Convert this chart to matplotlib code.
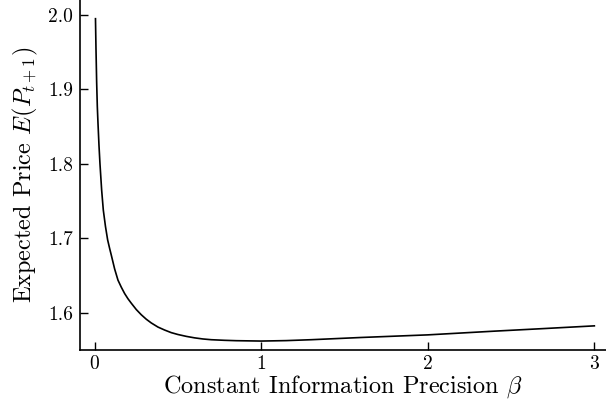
import numpy as np
import matplotlib
matplotlib.use('Agg')
import matplotlib.pyplot as plt

plt.rcParams['font.family'] = 'serif'
plt.rcParams['font.serif'] = ['cmr10']
plt.rcParams['mathtext.fontset'] = 'cm'
plt.rcParams['axes.formatter.use_mathtext'] = True

# expected price against constant information precision
beta = [0.005, 0.008, 0.012, 0.016, 0.02, 0.026, 0.032, 0.042, 0.052, 0.065,
        0.078, 0.09, 0.10, 0.12, 0.14, 0.16, 0.18, 0.20, 0.22, 0.25,
        0.28, 0.31, 0.34, 0.38, 0.42, 0.46, 0.50, 0.55, 0.60, 0.65,
        0.70, 0.78, 0.85, 1.0, 1.15, 1.3, 1.6, 2.0, 2.4, 2.7, 3.0]
price = [1.995, 1.955, 1.91, 1.877, 1.855, 1.825, 1.80, 1.765, 1.738, 1.716,
         1.698, 1.6865, 1.6775, 1.659, 1.644, 1.6345, 1.626, 1.619, 1.613, 1.6045,
         1.5975, 1.5915, 1.5865, 1.581, 1.577, 1.5735, 1.571, 1.5685, 1.5665, 1.565,
         1.564, 1.5632, 1.5627, 1.5622, 1.5628, 1.564, 1.567, 1.5705, 1.5755, 1.579, 1.5826]

fig = plt.figure(figsize=(6.06, 4.05), dpi=100)
ax = fig.add_axes([0.132, 0.136, 0.868, 0.864])
ax.plot(beta, price, color='black', lw=1.2)

ax.set_xlim(-0.088, 3.07)
ax.set_ylim(1.5503, 2.0201)
ax.set_xticks([0, 1, 2, 3])
ax.set_yticks([1.6, 1.7, 1.8, 1.9, 2.0])
ax.set_yticklabels(['1.6', '1.7', '1.8', '1.9', '2.0'])

for side in ['top', 'right']:
    ax.spines[side].set_visible(False)
for side in ['left', 'bottom']:
    ax.spines[side].set_linewidth(1.2)
ax.tick_params(direction='in', length=6, width=1.0, labelsize=14, pad=5)
ax.tick_params(axis='x', pad=4)

ax.set_xlabel(r'Constant Information Precision $\beta$', fontsize=17.5, labelpad=0)
ax.set_ylabel(r'Expected Price $E(P_{t+1})$', fontsize=17.5, labelpad=6)

fig.savefig('out.png', dpi=100)
